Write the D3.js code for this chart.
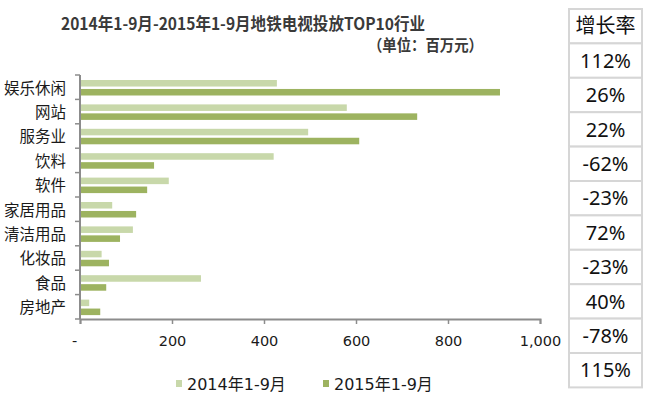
<!DOCTYPE html>
<html>
<head>
<meta charset="utf-8">
<script src="https://cdnjs.cloudflare.com/ajax/libs/d3/7.8.5/d3.min.js"></script>
<style>
  body { margin: 0; background: #fff; }
  svg { display: block; }
</style>
</head>
<body>
<svg id="chart" width="650" height="395"></svg>
<script>
// data (millions of yuan)
const categories = ["娱乐休闲", "网站", "服务业", "饮料", "软件", "家居用品", "清洁用品", "化妆品", "食品", "房地产"];
const series = ["2014年1-9月", "2015年1-9月"];
const values2014 = [428, 580, 496, 421, 193, 70, 115, 47, 263, 20];
const values2015 = [913, 733, 607, 161, 146, 122, 87, 63, 57, 44];
const growth = ["112%", "26%", "22%", "-62%", "-23%", "72%", "-23%", "40%", "-78%", "115%"];
const xTicks = [0, 200, 400, 600, 800, 1000];

const colors = { "2014年1-9月": "#c8d8aa", "2015年1-9月": "#9db360" };
const numFont = "'DejaVu Sans', 'Noto Sans CJK SC', sans-serif";
const cjkFont = "'Noto Sans CJK SC', sans-serif";
const axisColor = "#8c8c8c";

const svg = d3.select("#chart");

// Scales
const x = d3.scaleLinear().domain([0, 1000]).range([80, 540]);
const y0 = d3.scaleBand().domain(categories).range([75, 319]).padding(0);
const y1 = d3.scaleBand().domain(series).range([5, 20.5]).paddingInner(0.27);

const rows = categories.map((c, i) => ({ cat: c, vals: [values2014[i], values2015[i]] }));

// Bars
const groups = svg.append("g").selectAll("g")
  .data(rows)
  .enter().append("g")
  .attr("transform", d => "translate(0," + y0(d.cat) + ")");

groups.selectAll("rect")
  .data(d => series.map((s, j) => ({ s: s, v: d.vals[j] })))
  .enter().append("rect")
  .attr("x", x(0) + 1)
  .attr("y", d => y1(d.s))
  .attr("width", d => x(d.v) - x(0) - 1)
  .attr("height", y1.bandwidth())
  .attr("fill", d => colors[d.s]);

// X axis
const xAxis = svg.append("g")
  .attr("transform", "translate(0," + 319 + ")")
  .call(d3.axisBottom(x).tickValues(xTicks).tickSizeOuter(0).tickSize(5)
    .tickFormat(d => d === 0 ? "-" : d3.format(",")(d)));
xAxis.select(".domain").attr("stroke", axisColor).attr("stroke-width", 2);
xAxis.selectAll(".tick line").attr("stroke", axisColor).attr("stroke-width", 1.5);
xAxis.selectAll(".tick text")
  .attr("dy", "1.05em")
  .attr("y", 12)
  .attr("fill", "#1a1a1a")
  .style("font-family", numFont)
  .style("font-size", "14.5px");
xAxis.selectAll(".tick").filter(d => d === 0).select("text").attr("dx", -6);

// Y axis (ticks on category boundaries)
const yAxis = svg.append("g");
yAxis.append("line")
  .attr("x1", x(0)).attr("x2", x(0))
  .attr("y1", y0.range()[0]).attr("y2", y0.range()[1])
  .attr("stroke", axisColor).attr("stroke-width", 2);
const bounds = categories.map(c => y0(c)).concat([y0.range()[1]]);
yAxis.selectAll("line.tk")
  .data(bounds)
  .enter().append("line")
  .attr("class", "tk")
  .attr("x1", x(0) - 5).attr("x2", x(0))
  .attr("y1", d => d).attr("y2", d => d)
  .attr("stroke", axisColor).attr("stroke-width", 1.5);
yAxis.selectAll("text")
  .data(categories)
  .enter().append("text")
  .attr("x", 66)
  .attr("y", d => y0(d) + y0.bandwidth() / 2 + 1)
  .attr("dy", "0.35em")
  .attr("text-anchor", "end")
  .attr("fill", "#1a1a1a")
  .style("font-family", cjkFont)
  .style("font-size", "15.5px")
  .text(d => d);

// Title
svg.append("text")
  .attr("x", 61).attr("y", 30)
  .attr("textLength", 364).attr("lengthAdjust", "spacingAndGlyphs")
  .attr("fill", "#3a3a3a")
  .style("font-family", cjkFont)
  .style("font-size", "16.5px")
  .style("font-weight", "bold")
  .text("2014年1-9月-2015年1-9月地铁电视投放TOP10行业");
svg.append("text")
  .attr("x", 368).attr("y", 51)
  .attr("textLength", 115).attr("lengthAdjust", "spacingAndGlyphs")
  .attr("fill", "#3a3a3a")
  .style("font-family", cjkFont)
  .style("font-size", "16px")
  .style("font-weight", "bold")
  .text("（单位：百万元）");

// Legend
const legendX = [176, 323];
const legend = svg.append("g").selectAll("g")
  .data(series)
  .enter().append("g")
  .attr("transform", (d, i) => "translate(" + legendX[i] + ",380)");
legend.append("rect")
  .attr("width", 6).attr("height", 7)
  .attr("fill", d => colors[d]);
legend.append("text")
  .attr("x", 11).attr("y", 4)
  .attr("dy", "0.35em")
  .attr("fill", "#1a1a1a")
  .style("font-family", numFont)
  .style("font-size", "16px")
  .text(d => d);

// Growth table on the right
const tableX = 569, tableW = 73, rowH = 34.4, tableTop = 9;
const cells = ["增长率"].concat(growth);
const table = svg.append("g").selectAll("g")
  .data(cells)
  .enter().append("g")
  .attr("transform", (d, i) => "translate(" + tableX + "," + (tableTop + i * rowH) + ")");
table.append("rect")
  .attr("width", tableW).attr("height", rowH)
  .attr("fill", "#fff")
  .attr("stroke", "#d6d6d6").attr("stroke-width", 2);
table.append("text")
  .attr("x", tableW / 2).attr("y", rowH / 2)
  .attr("dy", "0.36em")
  .attr("text-anchor", "middle")
  .attr("fill", "#111")
  .style("font-family", (d, i) => i === 0 ? cjkFont : "'Noto Sans', sans-serif")
  .style("font-size", "20px")
  .text(d => d);
</script>
</body>
</html>
